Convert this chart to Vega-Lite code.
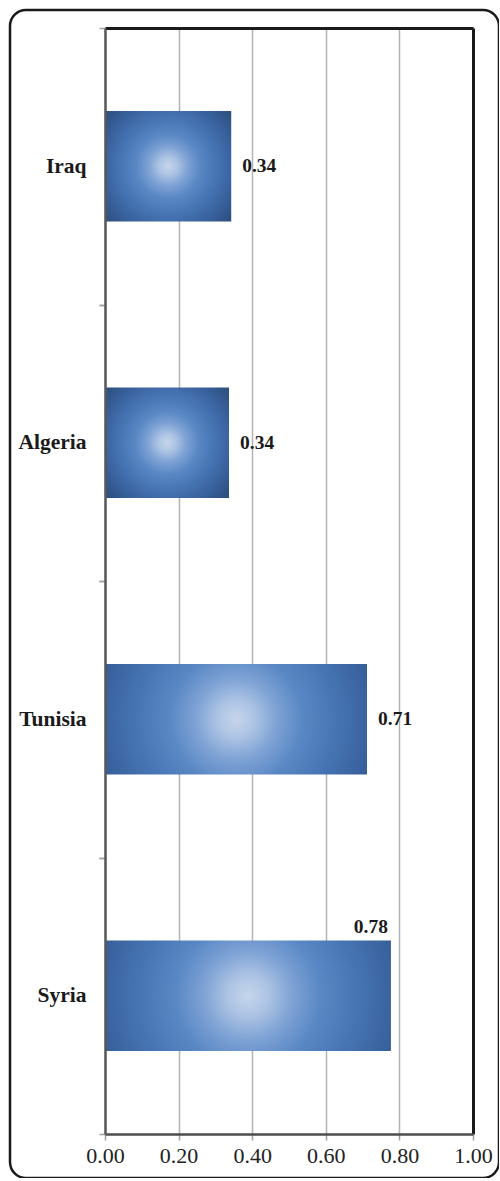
{
  "$schema": "https://vega.github.io/schema/vega-lite/v6.json",
  "width": 489,
  "height": 1168,
  "autosize": {"type": "none"},
  "padding": {"left": 10, "top": 10, "right": 0, "bottom": 0},
  "background": "white",
  "config": {
    "view": {"stroke": "#1a1a1a", "strokeWidth": 2.5, "cornerRadius": 16},
    "font": "Liberation Serif"
  },
  "data": {
    "values": [
      {"country": "Iraq", "value": 0.343},
      {"country": "Algeria", "value": 0.337},
      {"country": "Tunisia", "value": 0.712},
      {"country": "Syria", "value": 0.777}
    ]
  },
  "resolve": {"axis": {"x": "independent", "y": "independent"}},
  "layer": [
    {
      "mark": {
        "type": "bar",
        "color": {
          "gradient": "radial",
          "x1": 0.5, "y1": 0.5, "r1": 0,
          "x2": 0.5, "y2": 0.5, "r2": 0.7,
          "stops": [
            {"offset": 0, "color": "#c6d5eb"},
            {"offset": 0.1, "color": "#adc4e4"},
            {"offset": 0.22, "color": "#7fa3d5"},
            {"offset": 0.36, "color": "#5a88c5"},
            {"offset": 0.55, "color": "#4674b3"},
            {"offset": 0.76, "color": "#375f9a"},
            {"offset": 1, "color": "#2a4874"}
          ]
        }
      },
      "encoding": {
        "y": {
          "field": "country", "type": "nominal",
          "sort": ["Iraq", "Algeria", "Tunisia", "Syria"],
          "scale": {"range": [18, 1124], "paddingInner": 0.6, "paddingOuter": 0.3},
          "axis": {
            "orient": "left", "offset": -95, "title": null,
            "domainColor": "#595959", "domainWidth": 2.5,
            "tickOffset": 138.25, "labelOffset": -138.25,
            "tickColor": "#a0a0a0", "tickSize": 6, "tickWidth": 1.5,
            "labelFont": "Liberation Serif", "labelFontSize": 21.5, "labelFontWeight": "bold",
            "labelColor": "#1a1a1a", "labelPadding": 13, "zindex": 1
          }
        },
        "x": {
          "field": "value", "type": "quantitative",
          "scale": {"domain": [0, 1], "range": [95, 463], "nice": false, "zero": true},
          "axis": {
            "orient": "bottom", "offset": -44, "title": null, "grid": false,
            "values": [0, 0.2, 0.4, 0.6, 0.8, 1], "format": ".2f",
            "domainColor": "#4d4d4d", "domainWidth": 2.5,
            "tickColor": "#a0a0a0", "tickSize": 6, "tickWidth": 1.5,
            "labelFont": "Liberation Serif", "labelFontSize": 22, "labelFontWeight": "normal",
            "labelColor": "#222222", "labelPadding": 5, "labelFlush": false, "zindex": 1
          }
        }
      }
    },
    {
      "transform": [{"filter": "datum.country != 'Syria'"}],
      "mark": {
        "type": "text", "align": "left", "baseline": "middle", "dx": 11,
        "font": "Liberation Serif", "fontSize": 19.5, "fontWeight": "bold", "color": "#1a1a1a"
      },
      "encoding": {
        "y": {
          "field": "country", "type": "nominal",
          "sort": ["Iraq", "Algeria", "Tunisia", "Syria"],
          "axis": {
            "orient": "right", "offset": -26, "title": null, "labels": false, "ticks": false,
            "domainColor": "#1a1a1a", "domainWidth": 3, "grid": false
          }
        },
        "x": {
          "field": "value", "type": "quantitative",
          "axis": {
            "orient": "top", "offset": -18, "title": null, "labels": false, "ticks": false,
            "values": [0, 0.2, 0.4, 0.6, 0.8, 1],
            "domainColor": "#1a1a1a", "domainWidth": 3,
            "grid": true, "gridColor": "#b3b3b3", "gridWidth": 1.5, "gridOpacity": 1
          }
        },
        "text": {"field": "value", "type": "quantitative", "format": ".2f"}
      }
    },
    {
      "transform": [{"filter": "datum.country == 'Syria'"}],
      "mark": {
        "type": "text", "align": "right", "baseline": "middle", "dx": -3, "dy": -69,
        "font": "Liberation Serif", "fontSize": 19.5, "fontWeight": "bold", "color": "#1a1a1a"
      },
      "encoding": {
        "y": {
          "field": "country", "type": "nominal",
          "sort": ["Iraq", "Algeria", "Tunisia", "Syria"],
          "axis": {
            "orient": "left", "offset": -95, "title": null, "labels": false, "domain": false, "grid": false,
            "tickOffset": -138.25, "tickColor": "#a0a0a0", "tickSize": 6, "tickWidth": 1.5
          }
        },
        "x": {"field": "value", "type": "quantitative", "axis": null},
        "text": {"field": "value", "type": "quantitative", "format": ".2f"}
      }
    }
  ]
}
